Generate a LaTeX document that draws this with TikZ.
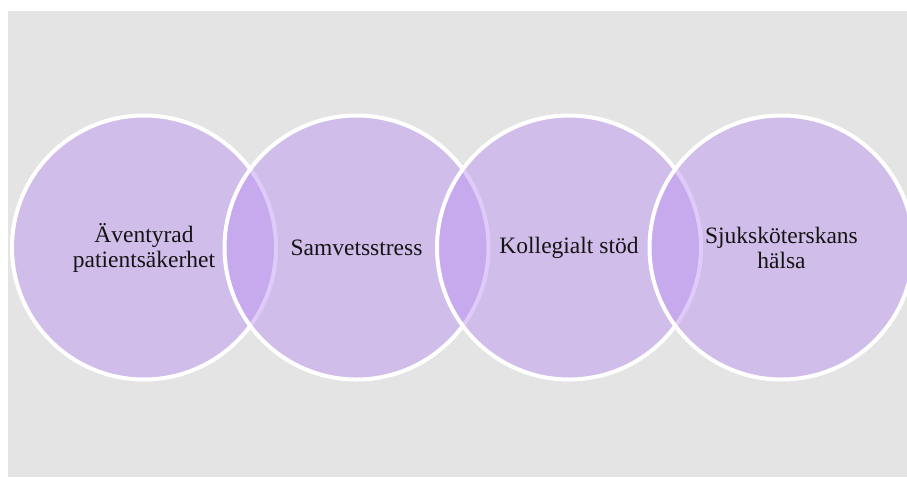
\documentclass[tikz,border=0pt]{standalone}
\usepackage{fontspec}
\setmainfont{Liberation Serif}
\definecolor{bggray}{RGB}{228,228,228}
\definecolor{venn}{RGB}{190,152,240}
\definecolor{txt}{RGB}{20,20,20}
\begin{document}
\begin{tikzpicture}[x=1pt,y=-1pt,
  vennc/.style={circle, minimum size=264pt, inner sep=0pt, line width=4pt,
    draw=white, fill=venn, fill opacity=0.5, draw opacity=1, text opacity=1,
    text=txt, align=center,
    font=\fontsize{23.5pt}{25pt}\selectfont}]
\useasboundingbox (0,0) rectangle (907,477);
\fill[bggray] (8,11) rectangle (907,477);
\node[vennc] (c1) at (144,247.5) {Äventyrad\\patientsäkerhet};
\node[vennc] (c2) at (356.5,247.5) {Samvetsstress};
\node[vennc] (c3) at (569,247.5) {Kollegialt stöd};
\node[vennc] (c4) at (781.5,247.5) {Sjuksköterskans\\hälsa};
\end{tikzpicture}
\end{document}
